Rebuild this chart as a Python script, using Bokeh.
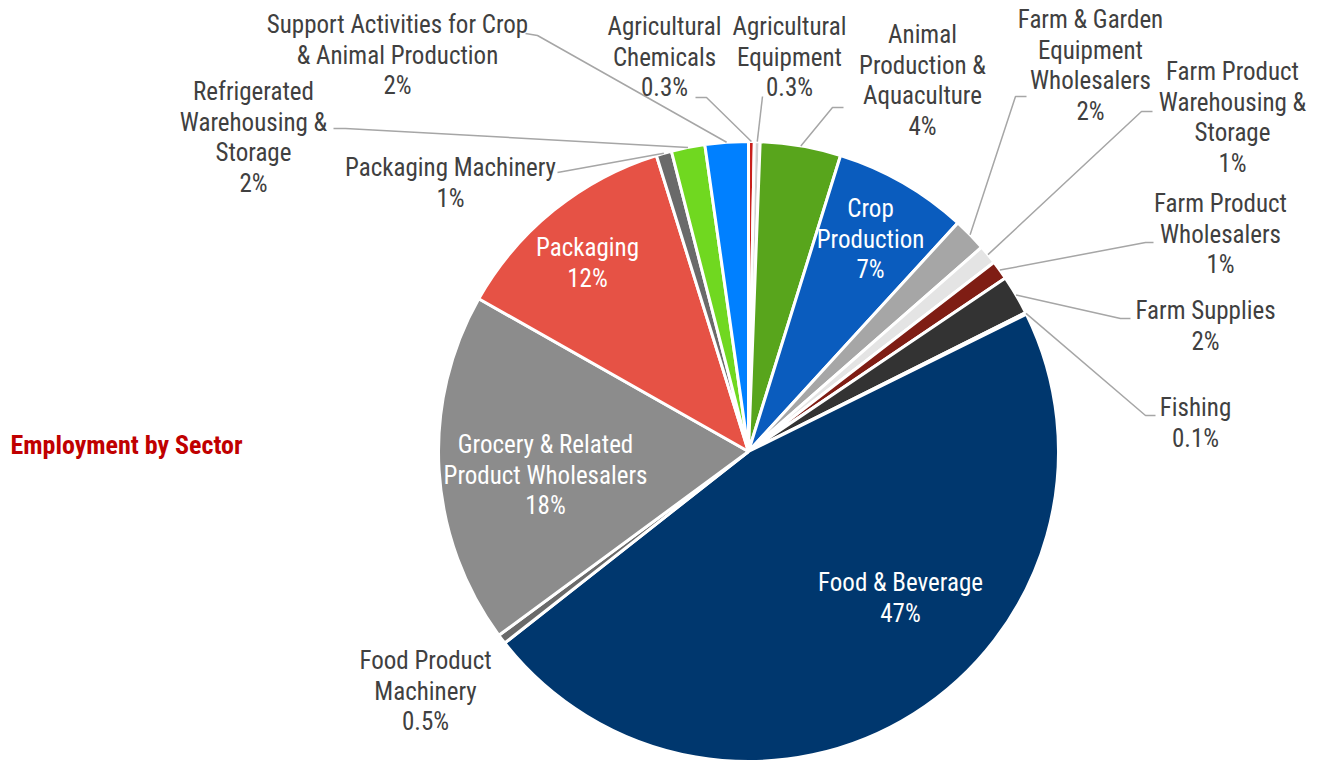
import math
from bokeh.plotting import figure
from bokeh.models import Range1d
from bokeh.core.properties import value
from bokeh.embed import file_html
from bokeh.resources import INLINE

# ---------------- data ----------------
sectors = [
    "Agricultural\nChemicals",
    "Agricultural\nEquipment",
    "Animal\nProduction &\nAquaculture",
    "Crop\nProduction",
    "Farm & Garden\nEquipment\nWholesalers",
    "Farm Product\nWarehousing &\nStorage",
    "Farm Product\nWholesalers",
    "Farm Supplies",
    "Fishing",
    "Food & Beverage",
    "Food Product\nMachinery",
    "Grocery & Related\nProduct Wholesalers",
    "Packaging",
    "Packaging Machinery",
    "Refrigerated\nWarehousing &\nStorage",
    "Support Activities for Crop\n& Animal Production",
]
shares = [0.3, 0.3, 4.2, 7.0, 1.75, 1.0, 1.0, 2.05, 0.1, 46.7, 0.5, 18.3, 12.0, 0.8, 1.75, 2.25]
pct_labels = ["0.3%", "0.3%", "4%", "7%", "2%", "1%", "1%", "2%", "0.1%", "47%",
              "0.5%", "18%", "12%", "1%", "2%", "2%"]
colors = ["#c8201c", "#d0d0d0", "#58a51c", "#0a5cbe", "#a6a6a6", "#e4e4e4", "#7f1d14", "#333333",
          "#c00000", "#00376e", "#6a6a6a", "#8c8c8c", "#e65245", "#6a6a6a", "#70d820", "#0080ff"]
title_text = "Employment by Sector"

# ---------------- layout (pixel space, y downward) ----------------
W, H = 1317, 761
CX, CY, R = 748, 451, 310
FONT = "Roboto Condensed"
FS = "25px"
LH = 30.5

# label: (center x, first line y, inside?)
label_layout = [
    (664, 26, False), (789, 26, False), (922, 34, False), (870, 208, True),
    (1090, 19, False), (1232, 71, False), (1220, 203, False), (1205, 310, False),
    (1195, 407, False), (900, 582, True), (425, 660, False), (545, 444, True),
    (587, 247, True), (450, 167, False), (253, 91, False), (397, 24, False),
]
# leader line points near the label (pixel coords), None = no leader
leaders = [
    [(695, 97), (706, 97)], [(762, 96)], [(843, 107), (832, 107)], None,
    [(1026, 96), (1015, 96)], [(1152, 111), (1141, 111)], [(1153, 242), (1145, 242)],
    [(1130, 318), (1120, 318)], [(1155, 415), (1145, 415)], None, None, None,
    None, [(557, 172)], [(333, 128), (345, 128)], [(525, 33), (537, 35)],
]


def Y(py):
    return H - py


p = figure(width=W, height=H, output_backend="svg", toolbar_location=None,
           x_range=Range1d(0, W), y_range=Range1d(0, H), min_border=0,
           background_fill_color="white", border_fill_color="white", outline_line_color=None)
p.axis.visible = False
p.grid.visible = False

total = sum(shares)
starts, ends, mids = [], [], []
c = 0.0
for s in shares:
    a0 = c / total
    c += s
    a1 = c / total
    starts.append(math.pi / 2 - 2 * math.pi * a0)
    ends.append(math.pi / 2 - 2 * math.pi * a1)
    mids.append(math.pi / 2 - 2 * math.pi * (a0 + a1) / 2)

p.wedge(x=CX, y=Y(CY), radius=R, start_angle=starts, end_angle=ends, direction="clock",
        fill_color=colors, line_color="white", line_width=3)

# leader lines
for i, pts in enumerate(leaders):
    if pts is None:
        continue
    ex = CX + R * math.cos(mids[i])
    ey = Y(CY) + R * math.sin(mids[i])
    xs = [q[0] for q in pts] + [ex]
    ys = [Y(q[1]) for q in pts] + [ey]
    p.line(xs, ys, line_color="#a6a6a6", line_width=1.5)

# labels
for i, name in enumerate(sectors):
    lx, ly, inside = label_layout[i]
    lines = name.split("\n") + [pct_labels[i]]
    for k, t in enumerate(lines):
        p.text(x=[lx], y=[Y(ly + k * LH)], text=[t], text_align="center", text_baseline="middle",
               text_font=value(FONT), text_font_size=FS,
               text_color="white" if inside else "#404040")

p.text(x=[10], y=[Y(444)], text=[title_text], text_align="left", text_baseline="middle",
       text_font=value(FONT), text_font_size="26px", text_font_style="bold", text_color="#c00000")

open("out.html", "w").write(file_html(p, INLINE))
